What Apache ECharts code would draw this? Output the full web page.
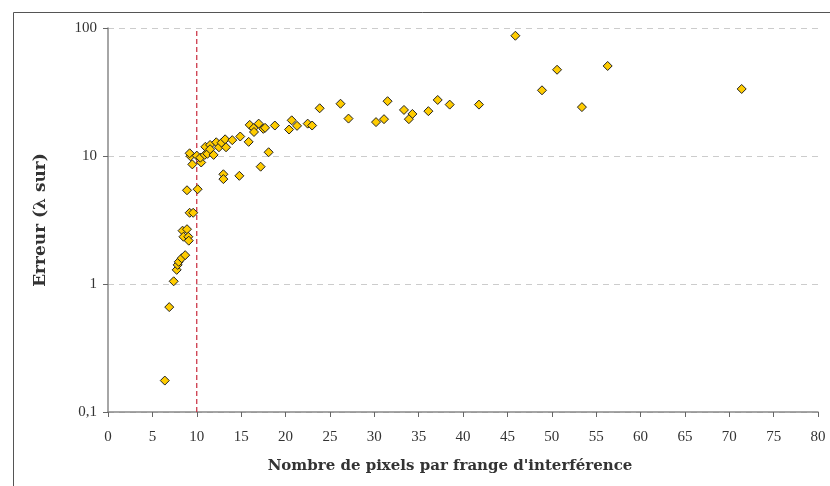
<!DOCTYPE html>
<html>
<head>
<meta charset="utf-8">
<script src="https://cdn.jsdelivr.net/npm/echarts@6/dist/echarts.min.js"></script>
<style>html,body{margin:0;padding:0;background:#fff;}#c{width:830px;height:486px;}</style>
</head>
<body>
<div id="c"></div>
<script>
// Pixels per fringe (x) and error in fractions of lambda (y)
var xValues = [6.4, 6.9, 7.4, 7.74, 7.85, 7.97, 8.3, 8.7, 8.4, 8.5, 8.9, 9.05, 9.1, 9.2, 9.6,
  8.9, 10.1, 9.5, 10.5, 9.3, 9.2, 10.0, 10.4, 10.9, 11.2, 10.97, 11.5, 11.5, 11.9, 12.2,
  12.5, 12.8, 13.2, 13.3, 14.0, 14.9, 15.85, 13.0, 13.0, 14.8, 17.2, 18.1, 15.97, 16.4, 16.45,
  16.98, 17.5, 17.7, 18.8, 20.4, 20.7, 21.3, 22.5, 23.0, 23.85, 26.2, 27.1, 30.2, 31.1,
  31.5, 33.35, 34.3, 33.9, 36.1, 37.15, 38.5, 41.8, 45.9, 48.9, 50.6, 53.4, 56.3, 71.4];
var yValues = [0.176, 0.66, 1.05, 1.29, 1.41, 1.49, 1.59, 1.68, 2.61, 2.34, 2.68, 2.34, 2.18, 3.6, 3.6,
  5.4, 5.5, 8.6, 8.9, 9.95, 10.5, 10.06, 9.7, 10.2, 10.4, 11.8, 12.2, 11.3, 10.2, 12.8,
  11.7, 12.7, 13.5, 11.7, 13.3, 14.2, 12.9, 7.2, 6.6, 7.0, 8.25, 10.7, 17.5, 16.5, 15.4,
  17.9, 16.3, 16.6, 17.3, 16.1, 19.0, 17.2, 17.9, 17.3, 23.6, 25.6, 19.6, 18.4, 19.4,
  26.8, 22.9, 21.3, 19.4, 22.4, 27.4, 25.2, 25.2, 87, 32.6, 47.2, 24.1, 50.5, 33.4];
var xTicks = {min: 0, max: 80, interval: 5};
var yTicks = {min: 0.1, max: 100};
var thresholdX = 10;

var points = xValues.map(function (x, i) { return [x, yValues[i]]; });
var serif = '"Liberation Serif", "DejaVu Serif", serif';
var nameSerif = '"DejaVu Serif", "Liberation Serif", serif';

var chart = echarts.init(document.getElementById('c'), null, {renderer: 'canvas'});
chart.setOption({
  animation: false,
  backgroundColor: '#fff',
  graphic: [{
    type: 'rect', left: 11, top: 10, silent: true,
    shape: {width: 840, height: 500},
    style: {fill: 'none', stroke: '#555', lineWidth: 1}
  }],
  grid: {left: 108, right: 12, top: 28, bottom: 74},
  xAxis: {
    type: 'value', min: xTicks.min, max: xTicks.max, interval: xTicks.interval,
    name: "Nombre de pixels par frange d'interférence",
    nameLocation: 'middle', nameGap: 47,
    nameTextStyle: {fontFamily: nameSerif, fontWeight: 'bold', fontSize: 15, color: '#333',
      padding: [0, 26, 0, 0]},
    axisLine: {show: true, lineStyle: {color: '#888', width: 1.5}},
    axisTick: {show: true, length: 5, lineStyle: {color: '#666'}},
    axisLabel: {fontFamily: serif, fontSize: 15, color: '#333', margin: 18},
    splitLine: {show: false}
  },
  yAxis: {
    type: 'log', logBase: 10, min: yTicks.min, max: yTicks.max,
    name: 'Erreur (λ sur)', nameLocation: 'middle', nameGap: 59,
    nameTextStyle: {fontFamily: nameSerif, fontWeight: 'bold', fontSize: 17, color: '#333'},
    axisLine: {show: true, lineStyle: {color: '#888', width: 1.5}},
    axisTick: {show: true, length: 5, lineStyle: {color: '#666'}},
    axisLabel: {fontFamily: serif, fontSize: 15, color: '#333', margin: 11,
      formatter: function (v) { return String(v).replace('.', ','); }},
    minorTick: {show: false},
    splitLine: {show: true, lineStyle: {color: '#ccc', type: [6, 5], width: 1}}
  },
  series: [{
    type: 'line',
    data: [[thresholdX, yTicks.min], [thresholdX, yTicks.max]],
    symbol: 'none',
    silent: true,
    lineStyle: {color: '#c8283a', type: [5, 3], width: 1.2},
    z: 1
  }, {
    type: 'scatter',
    data: points,
    symbol: 'diamond',
    symbolSize: 9,
    itemStyle: {color: '#FFCC00', borderColor: '#222', borderWidth: 1, opacity: 1},
    z: 3
  }]
});
</script>
</body>
</html>
